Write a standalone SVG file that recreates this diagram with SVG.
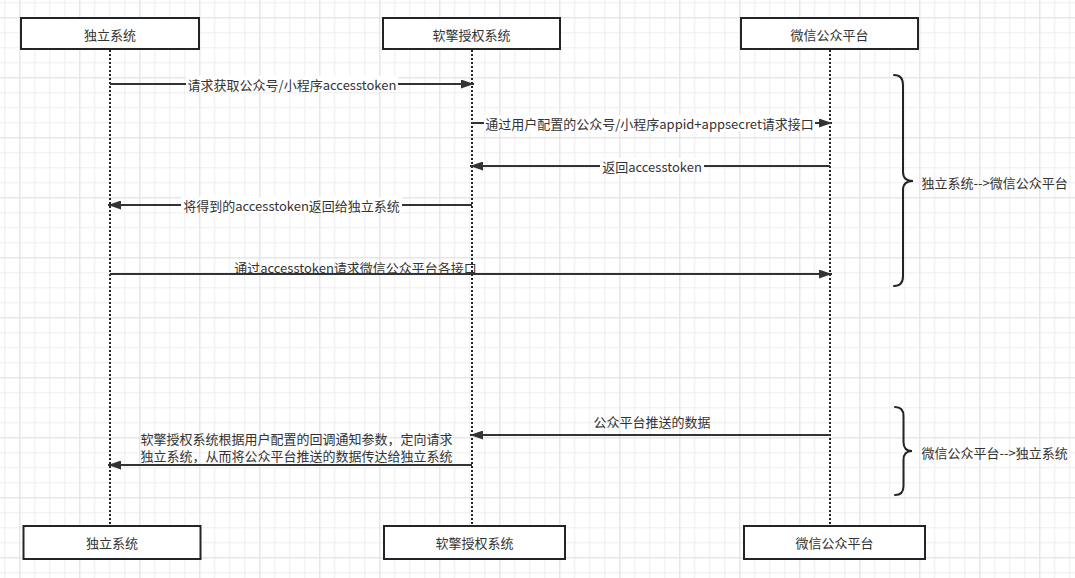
<svg xmlns="http://www.w3.org/2000/svg" width="1075" height="578" viewBox="0 0 1075 578">
<defs>
<pattern id="gMinor" x="4.3" y="2.3" width="15" height="15" patternUnits="userSpaceOnUse">
<path d="M0.5,0 V15 M0,0.5 H15" stroke="#eeeeee" stroke-width="1" fill="none"/>
</pattern>
<pattern id="gMajor" x="19.3" y="17.3" width="60" height="60" patternUnits="userSpaceOnUse">
<path d="M0.5,0 V60 M0,0.5 H60" stroke="#e2e2e2" stroke-width="1" fill="none"/>
</pattern>
<marker id="ah" viewBox="0 0 13 9" refX="13" refY="4.5" markerWidth="13" markerHeight="9" markerUnits="userSpaceOnUse" orient="auto">
<path d="M0,0 L13,4.5 L0,9 Z" fill="#333333"/>
</marker>
<style>
text{font-family:"Noto Sans CJK SC","Noto Sans",sans-serif;font-size:13px;fill:#333333;dominant-baseline:central}
.box{fill:#ffffff;stroke:#212529;stroke-width:2}
.c{text-anchor:middle}
.life{stroke:#212529;stroke-width:2;stroke-dasharray:2 2;fill:none}
.msg{stroke:#333333;stroke-width:2;fill:none;marker-end:url(#ah)}
.bg{fill:#ffffff}
.brace{stroke:#212529;stroke-width:2;fill:none;stroke-linecap:round}
</style>
</defs>
<rect width="1075" height="578" fill="#ffffff"/>
<rect width="1075" height="578" fill="url(#gMinor)"/>
<rect width="1075" height="578" fill="url(#gMajor)"/>

<g id="lifelines">
<path class="life" d="M110,50 V526"/>
<path class="life" d="M472,50 V526"/>
<path class="life" d="M830,50 V526"/>
</g>

<g id="node-top-independent">
<rect class="box" x="21" y="18" width="178" height="31"/>
<text class="c" x="110" y="34">独立系统</text>
</g>
<g id="node-top-auth">
<rect class="box" x="383" y="18" width="177" height="31"/>
<text class="c" x="471.5" y="34">软擎授权系统</text>
</g>
<g id="node-top-wechat">
<rect class="box" x="741" y="18" width="177" height="31"/>
<text class="c" x="829.5" y="34">微信公众平台</text>
</g>

<g id="node-bottom-independent">
<rect class="box" x="23.5" y="526" width="177" height="33"/>
<text class="c" x="112" y="542.5">独立系统</text>
</g>
<g id="node-bottom-auth">
<rect class="box" x="384" y="526" width="181" height="33"/>
<text class="c" x="474.5" y="542.5">软擎授权系统</text>
</g>
<g id="node-bottom-wechat">
<rect class="box" x="744" y="526" width="181" height="33"/>
<text class="c" x="834.5" y="542.5">微信公众平台</text>
</g>

<g id="connectors">
<path class="msg" d="M110,84 H474"/>
<rect class="bg" x="186" y="76" width="212" height="16"/>
<text class="c" x="292" y="84">请求获取公众号/小程序accesstoken</text>

<path class="msg" d="M472,123 H832"/>
<rect class="bg" x="484" y="115" width="331" height="16"/>
<text class="c" x="649.5" y="123">通过用户配置的公众号/小程序appid+appsecret请求接口</text>

<path class="msg" d="M830,166 H470"/>
<rect class="bg" x="600" y="158" width="104" height="16"/>
<text class="c" x="652" y="166">返回accesstoken</text>

<path class="msg" d="M472,205 H108"/>
<rect class="bg" x="181" y="197" width="221" height="16"/>
<text class="c" x="291.5" y="205">将得到的accesstoken返回给独立系统</text>

<path class="msg" d="M110,274 H832"/>
<text class="c" x="355.5" y="267">通过accesstoken请求微信公众平台各接口</text>

<path class="msg" d="M830,435 H470"/>
<text class="c" x="652" y="421.5">公众平台推送的数据</text>

<path class="msg" d="M472,465 H108"/>
<text class="c" x="296.5" y="438.5">软擎授权系统根据用户配置的回调通知参数，定向请求</text>
<text class="c" x="296.5" y="455.5">独立系统，从而将公众平台推送的数据传达给独立系统</text>
</g>

<g id="brace-1">
<path class="brace" d="M894,75 Q903,75 903,85 L903,172 Q903,181 913,181 Q903,181 903,190 L903,276 Q903,286 894,286"/>
<text x="921.5" y="182">独立系统--&gt;微信公众平台</text>
</g>
<g id="brace-2">
<path class="brace" d="M895,407 Q903.5,407 903.5,416 L903.5,442 Q903.5,451 912,451 Q903.5,451 903.5,460 L903.5,486 Q903.5,495 895,495"/>
<text x="921.5" y="452">微信公众平台--&gt;独立系统</text>
</g>
</svg>
